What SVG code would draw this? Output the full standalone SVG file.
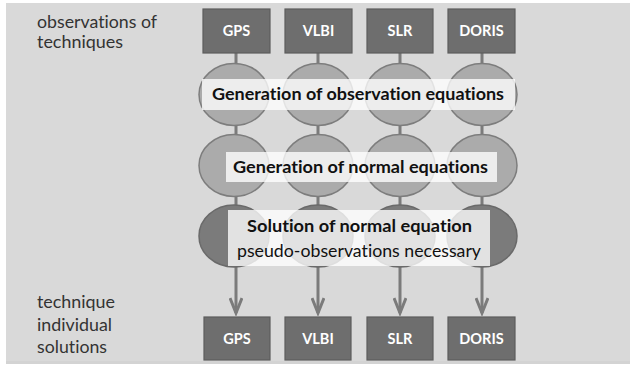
<svg xmlns="http://www.w3.org/2000/svg" width="630" height="369" viewBox="0 0 630 369">
  <defs>
    <style>
      text { font-variant-ligatures: none; }
      .side { font-family: Lato, "Open Sans", "Liberation Sans", sans-serif; font-size: 17px; fill: #333333; }
      .tech rect { fill: #6e6e6e; stroke: #5c5c5c; stroke-width: 1.2; }
      .tech text { font-family: Lato, "Open Sans", "Liberation Sans", sans-serif; font-weight: bold; font-size: 14.5px; fill: #ffffff; text-anchor: middle; }
      .stage ellipse { stroke: #7d7d7d; stroke-width: 1.5; }
      .light ellipse { fill: #ababab; }
      .dark ellipse { fill: #7b7b7b; stroke: #6a6a6a; }
      .band { fill: #ffffff; fill-opacity: 0.78; }
      .label { font-family: Lato, "Open Sans", "Liberation Sans", sans-serif; font-size: 17.5px; fill: #111111; }
      .bold { font-weight: bold; }
      .wire { stroke: #7b7b7b; stroke-width: 3; fill: none; }
    </style>
    <marker id="chevron" viewBox="0 0 20 14" refX="17" refY="7" markerWidth="20" markerHeight="14" markerUnits="userSpaceOnUse" orient="auto">
      <path d="M2,1 L17,7 L2,13" fill="none" stroke="#7b7b7b" stroke-width="3"/>
    </marker>
  </defs>

  <!-- backdrop panel with soft bottom shadow -->
  <rect x="0" y="0" width="630" height="369" fill="#ffffff"/>
  <rect x="6" y="5" width="624" height="359" fill="#b5b5b5" opacity="0.6"/>
  <rect x="6" y="3" width="624" height="358" fill="#d9d9d9"/>

  <!-- side captions -->
  <g id="caption-top">
    <text class="side" x="37" y="28" textLength="120" lengthAdjust="spacingAndGlyphs">observations of</text>
    <text class="side" x="37" y="48" textLength="86" lengthAdjust="spacingAndGlyphs">techniques</text>
  </g>
  <g id="caption-bottom">
    <text class="side" x="37" y="308" textLength="78" lengthAdjust="spacingAndGlyphs">technique</text>
    <text class="side" x="37" y="331" textLength="75" lengthAdjust="spacingAndGlyphs">individual</text>
    <text class="side" x="37" y="353" textLength="70" lengthAdjust="spacingAndGlyphs">solutions</text>
  </g>

  <!-- connectors: vertical chains per technique column -->
  <g id="connectors">
    <path class="wire" d="M236,53 V64 M236,125 V135 M236,196 V205"/>
    <path class="wire" d="M318,53 V64 M318,125 V135 M318,196 V205"/>
    <path class="wire" d="M400,53 V64 M400,125 V135 M400,196 V205"/>
    <path class="wire" d="M482,53 V64 M482,125 V135 M482,196 V205"/>
    <path class="wire" d="M236,267 V313" marker-end="url(#chevron)"/>
    <path class="wire" d="M318,267 V313" marker-end="url(#chevron)"/>
    <path class="wire" d="M400,267 V313" marker-end="url(#chevron)"/>
    <path class="wire" d="M482,267 V313" marker-end="url(#chevron)"/>
  </g>

  <!-- observation inputs -->
  <g id="obs-gps" class="tech"><rect x="203" y="9" width="67" height="44"/><text x="236.5" y="36">GPS</text></g>
  <g id="obs-vlbi" class="tech"><rect x="285" y="9" width="67" height="44"/><text x="318.5" y="36">VLBI</text></g>
  <g id="obs-slr" class="tech"><rect x="367" y="9" width="66" height="44"/><text x="400" y="36">SLR</text></g>
  <g id="obs-doris" class="tech"><rect x="448" y="9" width="67" height="44"/><text x="481.5" y="36">DORIS</text></g>

  <!-- stage 1: observation equations -->
  <g id="stage-observation-equations" class="stage light">
    <ellipse cx="234" cy="94.5" rx="35" ry="31"/>
    <ellipse cx="318" cy="94.5" rx="35" ry="31"/>
    <ellipse cx="400" cy="94.5" rx="35" ry="31"/>
    <ellipse cx="482" cy="94.5" rx="35" ry="31"/>
    <rect class="band" x="202" y="79" width="313" height="31"/>
    <text class="label bold" x="212" y="100" textLength="292" lengthAdjust="spacingAndGlyphs">Generation of observation equations</text>
  </g>

  <!-- stage 2: normal equations -->
  <g id="stage-normal-equations" class="stage light">
    <ellipse cx="234" cy="165.5" rx="35" ry="31"/>
    <ellipse cx="318" cy="165.5" rx="35" ry="31"/>
    <ellipse cx="400" cy="165.5" rx="35" ry="31"/>
    <ellipse cx="482" cy="165.5" rx="35" ry="31"/>
    <rect class="band" x="226" y="152" width="271" height="30"/>
    <text class="label bold" x="233" y="173" textLength="255" lengthAdjust="spacingAndGlyphs">Generation of normal equations</text>
  </g>

  <!-- stage 3: solution -->
  <g id="stage-solution" class="stage dark">
    <ellipse cx="234" cy="236" rx="35" ry="31"/>
    <ellipse cx="318" cy="236" rx="35" ry="31"/>
    <ellipse cx="400" cy="236" rx="35" ry="31"/>
    <ellipse cx="482" cy="236" rx="35" ry="31"/>
    <rect class="band" x="228" y="210" width="262" height="56"/>
    <text class="label bold" x="247" y="232" textLength="225" lengthAdjust="spacingAndGlyphs">Solution of normal equation</text>
    <text class="label" x="237" y="257" textLength="244" lengthAdjust="spacingAndGlyphs">pseudo-observations necessary</text>
  </g>

  <!-- individual solutions -->
  <g id="sol-gps" class="tech"><rect x="204" y="317" width="66" height="43"/><text x="237" y="344">GPS</text></g>
  <g id="sol-vlbi" class="tech"><rect x="285" y="317" width="66" height="43"/><text x="318" y="344">VLBI</text></g>
  <g id="sol-slr" class="tech"><rect x="367" y="317" width="66" height="43"/><text x="400" y="344">SLR</text></g>
  <g id="sol-doris" class="tech"><rect x="448" y="317" width="67" height="43"/><text x="481.5" y="344">DORIS</text></g>
</svg>
